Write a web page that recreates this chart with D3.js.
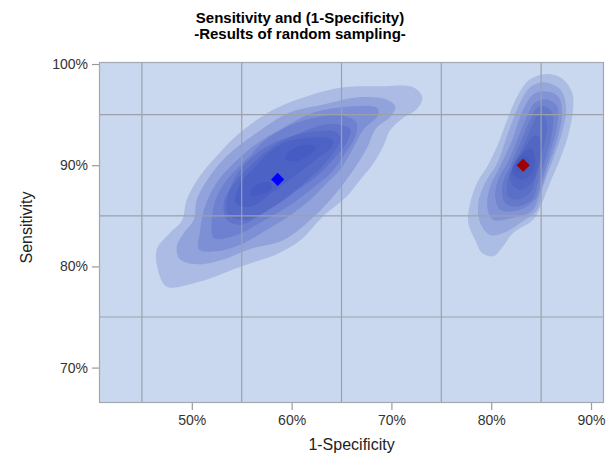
<!DOCTYPE html>
<html>
<head>
<meta charset="utf-8">
<script src="https://cdn.jsdelivr.net/npm/d3@7"></script>
<style>
  body { margin: 0; background: #fff; }
  text { font-family: "Liberation Sans", Arial, sans-serif; }
</style>
</head>
<body>
<svg id="chart" width="616" height="460"></svg>
<script>
// tick values and grid lines (percent)
const xTicks = [50, 60, 70, 80, 90];
const yTicks = [70, 80, 90, 100];
const xGrid = [45, 55, 65, 75, 85];
const yGrid = [75, 85, 95];

// density contour levels, outermost first: [1-specificity %, sensitivity %]
const leftLevels = [
  [[73.1,96.7],[72.2,97.7],[68.9,97.8],[65.2,97.7],[61.5,96.8],[58.2,95.5],[54.8,93.2],[52.5,90.9],[50.8,88.9],[49.5,86.6],[49.0,84.5],[47.8,83.3],[46.5,81.7],[46.6,79.7],[47.5,78.0],[50.8,78.5],[55.2,80.1],[58.5,81.2],[60.9,82.6],[63.2,85.0],[65.5,86.9],[66.9,88.6],[68.2,90.2],[69.2,91.9],[69.9,93.5],[71.2,94.7],[72.5,95.5]],
  [[70.4,95.8],[69.5,96.5],[66.5,96.7],[63.2,96.0],[59.8,95.2],[56.5,93.2],[53.5,90.9],[51.8,88.9],[50.5,86.6],[50.2,84.6],[49.2,83.3],[48.5,82.0],[48.8,80.7],[50.8,80.2],[53.2,80.7],[55.8,81.7],[59.2,82.6],[61.9,84.6],[63.9,86.6],[65.9,89.1],[67.5,91.6],[68.5,93.7],[69.9,94.8]],
  [[68.7,95.0],[68.5,95.7],[65.9,95.8],[62.2,95.2],[58.8,93.5],[56.3,92.0],[54.2,90.2],[52.5,88.3],[51.3,85.9],[50.8,83.3],[50.7,81.7],[52.5,81.5],[55.2,82.3],[57.5,83.6],[59.8,85.0],[61.9,86.6],[63.2,87.9],[64.9,89.6],[65.9,91.2],[67.2,93.5]],
  [[66.5,94.2],[65.2,94.9],[63.5,94.9],[60.5,94.2],[57.5,92.6],[55.5,90.6],[53.8,88.9],[52.5,86.9],[52.0,84.6],[52.2,82.8],[54.5,83.1],[57.2,84.5],[60.2,86.3],[62.2,87.8],[63.9,89.2],[65.2,90.9],[66.4,92.9]],
  [[65.9,93.5],[64.9,94.0],[63.2,94.0],[60.9,93.2],[58.2,91.9],[55.8,89.9],[54.3,88.3],[53.2,86.3],[53.5,84.6],[54.8,84.1],[56.8,85.0],[60.2,87.3],[62.5,88.9],[64.2,90.6],[65.5,92.2]],
  [[64.9,92.6],[64.4,93.3],[61.4,93.2],[58.0,92.1],[55.8,90.6],[54.4,88.9],[53.6,86.9],[53.6,85.2],[55.4,84.6],[57.3,85.4],[59.6,86.8],[61.9,88.8],[63.7,90.6]],
  [[64.2,92.1],[63.9,92.6],[59.8,92.4],[57.8,91.3],[56.4,89.9],[54.8,88.1],[54.4,86.3],[55.8,85.9],[58.1,87.3],[60.2,88.9],[62.2,90.4]],
  [[62.4,91.8],[61.4,92.0],[59.8,91.4],[59.4,90.6],[60.4,90.4],[61.9,91.1]],
  [[57.8,88.3],[56.8,88.2],[56.0,87.6],[56.0,87.0],[57.0,87.1],[58.0,87.7]]
];
const rightLevels = [
  [[85.9,99.0],[87.2,98.5],[88.1,97.2],[88.2,95.5],[87.7,92.9],[86.9,90.6],[85.9,88.3],[85.1,86.3],[84.2,84.6],[82.2,83.3],[81.2,82.0],[80.2,81.0],[79.1,81.3],[78.4,82.6],[77.7,84.3],[77.9,86.3],[78.6,88.3],[79.6,89.9],[80.6,91.9],[81.6,94.5],[82.6,96.8],[83.9,98.5]],
  [[85.2,98.2],[86.9,97.5],[87.5,95.8],[87.1,93.2],[86.2,90.6],[85.2,87.9],[84.6,85.6],[82.9,84.3],[81.2,83.3],[79.9,83.1],[78.9,84.3],[78.7,86.3],[79.4,88.3],[80.6,90.2],[81.7,93.2],[82.9,96.2],[83.9,97.7]],
  [[85.4,97.3],[86.7,96.8],[87.1,95.2],[86.6,92.5],[85.7,89.9],[84.9,87.3],[84.1,85.5],[82.2,84.8],[80.2,84.6],[79.6,85.9],[79.9,87.9],[80.9,89.9],[82.1,92.5],[83.2,95.5],[84.2,97.0]],
  [[85.6,96.5],[86.6,95.8],[86.6,93.9],[85.9,91.2],[85.1,88.6],[84.4,86.6],[82.9,85.6],[80.9,85.6],[80.4,86.9],[80.7,88.6],[81.6,90.2],[82.6,92.5],[83.6,94.9],[84.4,96.2]],
  [[85.4,95.8],[86.1,95.2],[86.1,93.2],[85.4,90.6],[84.7,88.3],[84.1,86.6],[82.6,85.9],[81.4,86.3],[81.1,87.9],[81.9,89.9],[82.9,92.2],[83.9,94.5],[84.6,95.7]],
  [[85.2,95.0],[85.6,93.9],[85.2,91.6],[84.6,89.2],[83.9,87.3],[82.6,86.6],[81.7,86.9],[81.6,88.3],[82.2,89.9],[83.2,91.9],[84.1,93.9],[84.7,95.0]],
  [[84.7,92.9],[85.1,91.9],[84.7,89.9],[84.1,88.3],[82.9,87.6],[82.1,88.1],[81.9,89.2],[82.7,90.7],[83.7,92.2],[84.2,92.9]],
  [[84.1,91.6],[84.4,90.6],[84.1,89.2],[83.1,88.6],[82.2,89.1],[82.2,90.1],[83.1,91.1],[83.7,91.6]],
  [[83.6,90.8],[83.9,90.1],[83.4,89.4],[82.6,89.4],[82.5,90.1],[83.0,90.7]]
];

// point estimates
const estimates = [
  { x: 58.6, y: 88.6, color: "#0000ff" },
  { x: 83.2, y: 90.0, color: "#a00000" }
];

const svg = d3.select("#chart");
const margin = { left: 99, right: 12, top: 62, bottom: 57 };
const W = +svg.attr("width"), H = +svg.attr("height");

const x = d3.scaleLinear().domain([40.7, 91.3]).range([margin.left, W - margin.right]);
const y = d3.scaleLinear().domain([66.5, 100.2]).range([H - margin.bottom, margin.top]);

// title
svg.append("text").attr("x", 300).attr("y", 23).attr("text-anchor", "middle")
   .style("font-size", "15px").style("font-weight", "bold").attr("fill", "#000")
   .text("Sensitivity and (1-Specificity)");
svg.append("text").attr("x", 300).attr("y", 39).attr("text-anchor", "middle")
   .style("font-size", "15px").style("font-weight", "bold").attr("fill", "#000")
   .text("-Results of random sampling-");

// plot background
svg.append("rect")
   .attr("x", x.range()[0]).attr("y", y.range()[1])
   .attr("width", x.range()[1] - x.range()[0])
   .attr("height", y.range()[0] - y.range()[1])
   .attr("fill", "#c9d8ee");

const clip = svg.append("clipPath").attr("id", "plotclip").append("rect")
   .attr("x", x.range()[0]).attr("y", y.range()[1])
   .attr("width", x.range()[1] - x.range()[0])
   .attr("height", y.range()[0] - y.range()[1]);

const plot = svg.append("g").attr("clip-path", "url(#plotclip)");

const line = d3.line().x(d => x(d[0])).y(d => y(d[1])).curve(d3.curveCatmullRomClosed.alpha(0.5));

plot.selectAll("path.left").data(leftLevels).join("path")
    .attr("class", "left")
    .attr("d", line)
    .attr("fill", "#2a40b8")
    .attr("fill-opacity", 0.19);

plot.selectAll("path.right").data(rightLevels).join("path")
    .attr("class", "right")
    .attr("d", line)
    .attr("fill", "#2a40b8")
    .attr("fill-opacity", 0.18);

// grid
plot.selectAll("line.gx").data(xGrid).join("line")
    .attr("class", "gx")
    .attr("x1", d => x(d)).attr("x2", d => x(d))
    .attr("y1", y.range()[0]).attr("y2", y.range()[1])
    .attr("stroke", "#9ba1ab").attr("stroke-width", 1.2);
plot.selectAll("line.gy").data(yGrid).join("line")
    .attr("class", "gy")
    .attr("y1", d => y(d)).attr("y2", d => y(d))
    .attr("x1", x.range()[0]).attr("x2", x.range()[1])
    .attr("stroke", "#9ba1ab").attr("stroke-width", 1.2);

// markers
const diamond = d3.symbol().type(d3.symbolDiamond2).size(110);
plot.selectAll("path.est").data(estimates).join("path")
    .attr("class", "est")
    .attr("d", diamond)
    .attr("transform", d => `translate(${x(d.x)},${y(d.y)})`)
    .attr("fill", d => d.color);

// frame
svg.append("rect")
   .attr("x", x.range()[0] + 0.5).attr("y", y.range()[1] + 0.5)
   .attr("width", x.range()[1] - x.range()[0] - 1)
   .attr("height", y.range()[0] - y.range()[1] - 1)
   .attr("fill", "none").attr("stroke", "#a3a9b3").attr("stroke-width", 1.2);

// axes
const xAxis = svg.append("g").attr("transform", `translate(0,${y.range()[0]})`)
   .call(d3.axisBottom(x).tickValues(xTicks).tickSize(7).tickPadding(5).tickFormat(d => d + "%"));
const yAxis = svg.append("g").attr("transform", `translate(${x.range()[0]},0)`)
   .call(d3.axisLeft(y).tickValues(yTicks).tickSize(7).tickPadding(4).tickFormat(d => d + "%"));
[xAxis, yAxis].forEach(g => {
  g.select(".domain").remove();
  g.selectAll(".tick line").attr("stroke", "#9a9a9a").attr("stroke-width", 1.2);
  g.selectAll(".tick text").attr("fill", "#333").style("font-size", "14px")
   .style("font-family", "'Liberation Sans', Arial, sans-serif");
});

// axis titles
svg.append("text").attr("x", (x.range()[0] + x.range()[1]) / 2).attr("y", 450)
   .attr("text-anchor", "middle").style("font-size", "16px").attr("fill", "#222")
   .text("1-Specificity");
svg.append("text")
   .attr("transform", `translate(32,${(y.range()[0] + y.range()[1]) / 2 - 5}) rotate(-90)`)
   .attr("text-anchor", "middle").style("font-size", "16px").attr("fill", "#222")
   .text("Sensitivity");
</script>
</body>
</html>
